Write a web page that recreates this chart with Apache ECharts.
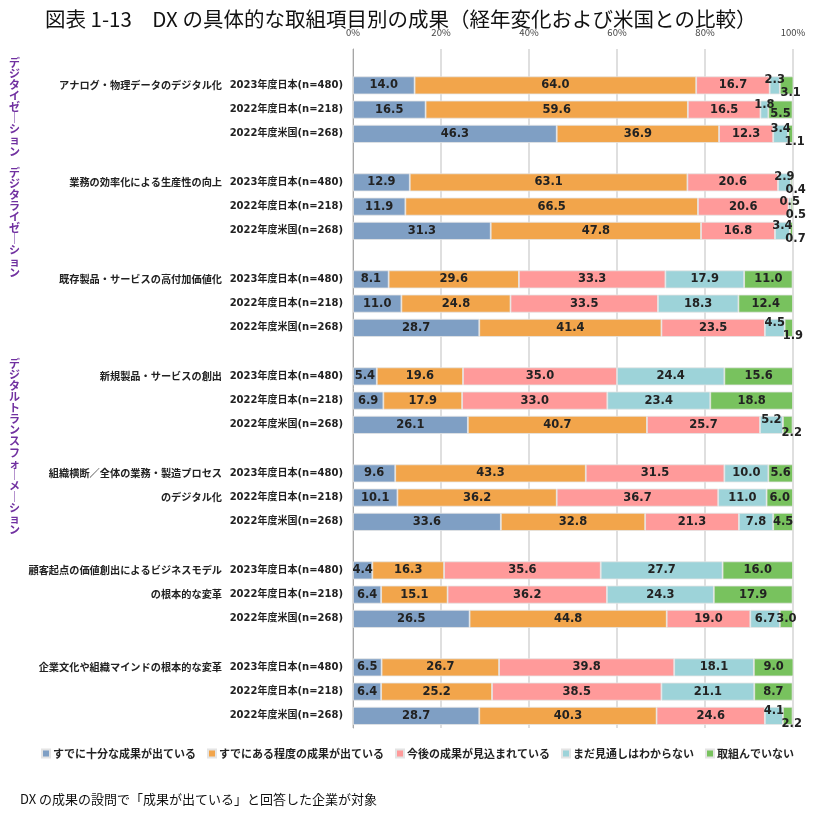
<!DOCTYPE html>
<html><head><meta charset="utf-8">
<script src="https://cdn.jsdelivr.net/npm/echarts@6/dist/echarts.min.js"></script>
<style>html,body{margin:0;padding:0;background:#fff}#c{width:835px;height:819px}</style>
</head><body><div id="c"></div>
<script>
const titleText = '図表 1-13　DX の具体的な取組項目別の成果（経年変化および米国との比較）';
const noteText = 'DX の成果の設問で「成果が出ている」と回答した企業が対象';
const groupLines = [
  ['アナログ・物理データのデジタル化'],
  ['業務の効率化による生産性の向上'],
  ['既存製品・サービスの高付加価値化'],
  ['新規製品・サービスの創出'],
  ['組織横断／全体の業務・製造プロセス', 'のデジタル化'],
  ['顧客起点の価値創出によるビジネスモデル', 'の根本的な変革'],
  ['企業文化や組織マインドの根本的な変革']
];
const years = ['2023年度日本(n=480)', '2022年度日本(n=218)', '2022年度米国(n=268)'];
const seriesNames = ['すでに十分な成果が出ている', 'すでにある程度の成果が出ている', '今後の成果が見込まれている', 'まだ見通しはわからない', '取組んでいない'];
const s1 = [14.0,16.5,46.3, 12.9,11.9,31.3, 8.1,11.0,28.7, 5.4,6.9,26.1, 9.6,10.1,33.6, 4.4,6.4,26.5, 6.5,6.4,28.7];
const s2 = [64.0,59.6,36.9, 63.1,66.5,47.8, 29.6,24.8,41.4, 19.6,17.9,40.7, 43.3,36.2,32.8, 16.3,15.1,44.8, 26.7,25.2,40.3];
const s3 = [16.7,16.5,12.3, 20.6,20.6,16.8, 33.3,33.5,23.5, 35.0,33.0,25.7, 31.5,36.7,21.3, 35.6,36.2,19.0, 39.8,38.5,24.6];
const s4 = [2.3,1.8,3.4, 2.9,0.5,3.4, 17.9,18.3,4.5, 24.4,23.4,5.2, 10.0,11.0,7.8, 27.7,24.3,6.7, 18.1,21.1,4.1];
const s5 = [3.1,5.5,1.1, 0.4,0.5,0.7, 11.0,12.4,1.9, 15.6,18.8,2.2, 5.6,6.0,4.5, 16.0,17.9,3.0, 9.0,8.7,2.2];
const xTicks = ['0%','20%','40%','60%','80%','100%'];
const sideLabels = [
  {text: 'デジタイゼーション', top: 57},
  {text: 'デジタライゼーション', top: 167},
  {text: 'デジタルトランスフォーメーション', top: 358}
];
const colors = ['#7f9fc4', '#f2a54b', '#ff9a9a', '#9dd3d9', '#78c25e'];

// build rows: one empty row on top, groups of 3 bars separated by an empty row
const yearCats = [''], groupCats = [''], rowIdx = [-1];
groupLines.forEach((g, gi) => {
  years.forEach((y, yi) => {
    yearCats.push(y);
    groupCats.push(g[yi] || '');
    rowIdx.push(gi * 3 + yi);
  });
  if (gi < groupLines.length - 1) { yearCats.push(''); groupCats.push(''); rowIdx.push(-1); }
});
const allVals = [s1, s2, s3, s4, s5];
function smallPair(i) { return s4[i] + s5[i] < 9; }
const series = allVals.map((vals, si) => ({
  name: seriesNames[si],
  type: 'bar',
  stack: 'all',
  barWidth: 18,
  itemStyle: {color: colors[si], borderColor: '#e4e4e4', borderWidth: 0.8},
  label: {show: true, position: 'inside', fontFamily: 'DejaVu Sans', fontWeight: 'bold', fontSize: 11.5, color: '#222',
    formatter: p => p.value.toFixed(1)},
  data: rowIdx.map(i => {
    if (i < 0) return '-';
    const v = vals[i];
    if (si === 3 && smallPair(i)) return {value: v, label: {offset: [0, -5]}};
    if (si === 4 && smallPair(i)) return {value: v, label: {offset: [v < 4 ? 4 : 0, v < 4 ? 8 : 4]}};
    return v;
  })
}));

const chart = echarts.init(document.getElementById('c'));
chart.setOption({
  animation: false,
  color: colors,
  title: {text: titleText, left: 40, top: 4,
    textStyle: {fontFamily: 'Noto Sans CJK JP', fontSize: 20.5, fontWeight: 'normal', color: '#111'}},
  grid: {left: 353, right: 42, top: 49, bottom: 91},
  legend: {bottom: 55, left: 'center', itemWidth: 8, itemHeight: 8, itemGap: 11, icon: 'rect',
    textStyle: {fontFamily: 'Noto Sans CJK JP', fontSize: 11, fontWeight: 'bold', color: '#222', padding: [0,0,0,-2]},
    data: seriesNames},
  xAxis: {type: 'value', position: 'top', min: 0, max: 100, interval: 20,
    axisLabel: {formatter: v => xTicks[v / 20], fontSize: 9.5, color: '#444', margin: 12, fontFamily: 'Noto Sans CJK JP'},
    axisLine: {show: false}, axisTick: {show: false},
    splitLine: {lineStyle: {color: '#d4d4d4', width: 1.5}}},
  yAxis: [
    {type: 'category', inverse: true, data: yearCats,
      axisLine: {show: true, lineStyle: {color: '#a6a6a6'}}, axisTick: {show: false},
      axisLabel: {margin: 10, fontFamily: 'DejaVu Sans, Noto Sans CJK JP', fontWeight: 'bold', fontSize: 10, color: '#222', interval: 0}},
    {type: 'category', inverse: true, data: groupCats, position: 'left', offset: 121,
      axisLine: {show: false}, axisTick: {show: false},
      axisLabel: {margin: 10, fontFamily: 'Noto Sans CJK JP', fontWeight: 'bold', fontSize: 10.2, color: '#222', interval: 0}}
  ],
  series: series,
  graphic: sideLabels.map(s => ({
    type: 'text', left: 9, top: s.top,
    style: {text: Array.from(s.text.replace(/ー/g, '｜')).join('\n'), fill: '#7030a0',
      font: 'bold 11px "Noto Sans CJK JP"', lineHeight: 11.1, align: 'center'}
  })).concat([{
    type: 'text', left: 20, top: 793,
    style: {text: noteText, fill: '#111', font: '13px "Noto Sans CJK JP"'}
  }])
});
</script></body></html>
